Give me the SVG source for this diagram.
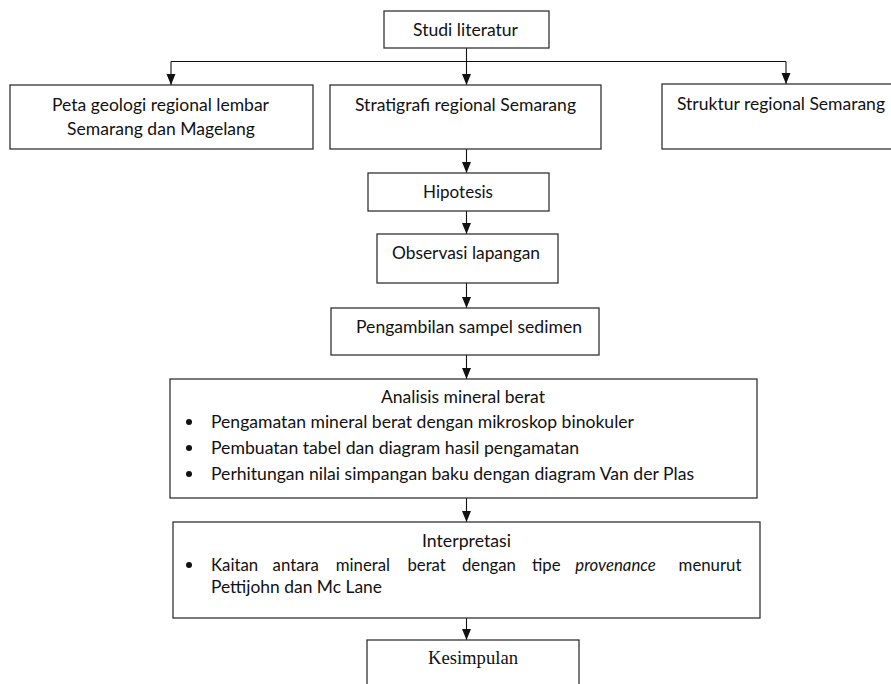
<svg xmlns="http://www.w3.org/2000/svg" width="891" height="684" viewBox="0 0 891 684">
<style>
.box{fill:#fff;stroke:#333;stroke-width:1.3}
.t{font-family:Lato,"Open Sans","Liberation Sans",sans-serif;font-size:16.8px;fill:#111}
.it{font-style:italic}
.serif{font-family:"Liberation Serif","Times New Roman",serif;font-size:18.67px;fill:#111}
.ln{fill:none;stroke:#111;stroke-width:1.1}
.dot{fill:#111}
</style>
<defs>
<marker id="ah" markerUnits="userSpaceOnUse" markerWidth="11" markerHeight="10" refX="11" refY="5" orient="auto">
<path d="M0,0.5 L11,5 L0,9.5 z" fill="#111"/>
</marker>
</defs>
<rect width="891" height="684" fill="#fff"/>
<g id="connectors">
<path class="ln" d="M466.5,48 V61.5"/>
<path class="ln" d="M171,61.5 H786"/>
<path class="ln" d="M171,61.5 V85" marker-end="url(#ah)"/>
<path class="ln" d="M466.5,61.5 V85" marker-end="url(#ah)"/>
<path class="ln" d="M786,61.5 V84" marker-end="url(#ah)"/>
<path class="ln" d="M466.5,149 V173" marker-end="url(#ah)"/>
<path class="ln" d="M466.5,211 V234" marker-end="url(#ah)"/>
<path class="ln" d="M466.5,283 V308" marker-end="url(#ah)"/>
<path class="ln" d="M466.5,355 V379" marker-end="url(#ah)"/>
<path class="ln" d="M466.5,498 V522" marker-end="url(#ah)"/>
<path class="ln" d="M466.5,618 V640" marker-end="url(#ah)"/>
</g>
<g id="studi">
<rect class="box" x="384" y="11" width="165" height="37"/>
<text class="t" x="413" y="36" textLength="105" lengthAdjust="spacingAndGlyphs">Studi literatur</text>
</g>
<g id="peta">
<rect class="box" x="10" y="85" width="303" height="64"/>
<text class="t" x="52" y="111" textLength="217" lengthAdjust="spacingAndGlyphs">Peta geologi regional lembar</text>
<text class="t" x="67" y="135" textLength="188" lengthAdjust="spacingAndGlyphs">Semarang dan Magelang</text>
</g>
<g id="stratigrafi">
<rect class="box" x="330" y="85" width="271" height="64"/>
<text class="t" x="355" y="111" textLength="221" lengthAdjust="spacingAndGlyphs">Stratigrafi regional Semarang</text>
</g>
<g id="struktur">
<rect class="box" x="662" y="84" width="240" height="65"/>
<text class="t" x="677" y="110" textLength="208" lengthAdjust="spacingAndGlyphs">Struktur regional Semarang</text>
</g>
<g id="hipotesis">
<rect class="box" x="368" y="173" width="181" height="38"/>
<text class="t" x="423" y="198" textLength="70" lengthAdjust="spacingAndGlyphs">Hipotesis</text>
</g>
<g id="observasi">
<rect class="box" x="377" y="234" width="181" height="49"/>
<text class="t" x="392" y="259" textLength="148" lengthAdjust="spacingAndGlyphs">Observasi lapangan</text>
</g>
<g id="pengambilan">
<rect class="box" x="331" y="308" width="268" height="47"/>
<text class="t" x="356" y="333" textLength="226" lengthAdjust="spacingAndGlyphs">Pengambilan sampel sedimen</text>
</g>
<g id="analisis">
<rect class="box" x="170" y="379" width="587" height="119"/>
<text class="t" x="381" y="403" textLength="164" lengthAdjust="spacingAndGlyphs">Analisis mineral berat</text>
<circle class="dot" cx="189" cy="422" r="3"/>
<text class="t" x="211" y="428" textLength="423" lengthAdjust="spacingAndGlyphs">Pengamatan mineral berat dengan mikroskop binokuler</text>
<circle class="dot" cx="189" cy="448" r="3"/>
<text class="t" x="211" y="454" textLength="368" lengthAdjust="spacingAndGlyphs">Pembuatan tabel dan diagram hasil pengamatan</text>
<circle class="dot" cx="189" cy="474" r="3"/>
<text class="t" x="211" y="480" textLength="483" lengthAdjust="spacingAndGlyphs">Perhitungan nilai simpangan baku dengan diagram Van der Plas</text>
</g>
<g id="interpretasi">
<rect class="box" x="173" y="522" width="587" height="96"/>
<text class="t" x="422" y="547" textLength="89" lengthAdjust="spacingAndGlyphs">Interpretasi</text>
<circle class="dot" cx="189" cy="565" r="3"/>
<text class="t" y="571"><tspan x="211">Kaitan</tspan><tspan x="272.6">antara</tspan><tspan x="335.7">mineral</tspan><tspan x="407.4">berat</tspan><tspan x="461.9">dengan</tspan><tspan x="532">tipe</tspan><tspan x="575.3" class="it">provenance</tspan><tspan x="678.6">menurut</tspan></text>
<text class="t" x="211" y="593" textLength="171" lengthAdjust="spacingAndGlyphs">Pettijohn dan Mc Lane</text>
</g>
<g id="kesimpulan">
<rect class="box" x="367" y="640" width="212" height="60"/>
<text class="serif" x="473" y="664" text-anchor="middle">Kesimpulan</text>
</g>
</svg>
